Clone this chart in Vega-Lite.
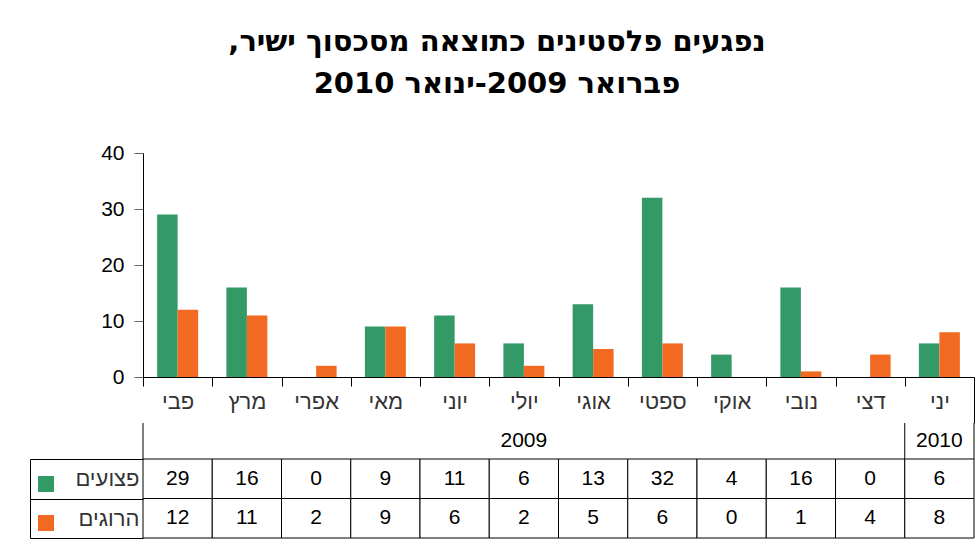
{
  "$schema": "https://vega.github.io/schema/vega-lite/v6.json",
  "background": "white",
  "padding": {"left": 29, "top": 28, "right": 4, "bottom": 4},
  "title": {
    "text": ["נפגעים פלסטינים כתוצאה מסכסוך ישיר,\u200f", "פברואר 2009-ינואר 2010"],
    "font": "DejaVu Sans",
    "fontSize": 29,
    "fontWeight": "bold",
    "lineHeight": 42,
    "color": "black",
    "anchor": "middle",
    "frame": "bounds",
    "dx": -5,
    "offset": 43
  },
  "config": {
    "view": {"stroke": null},
    "font": "Liberation Sans"
  },
  "datasets": {
    "casualties": [
      {"month": "פבי", "series": "פצועים", "value": 29},
      {"month": "פבי", "series": "הרוגים", "value": 12},
      {"month": "מרץ", "series": "פצועים", "value": 16},
      {"month": "מרץ", "series": "הרוגים", "value": 11},
      {"month": "אפרי", "series": "פצועים", "value": 0},
      {"month": "אפרי", "series": "הרוגים", "value": 2},
      {"month": "מאי", "series": "פצועים", "value": 9},
      {"month": "מאי", "series": "הרוגים", "value": 9},
      {"month": "יוני", "series": "פצועים", "value": 11},
      {"month": "יוני", "series": "הרוגים", "value": 6},
      {"month": "יולי", "series": "פצועים", "value": 6},
      {"month": "יולי", "series": "הרוגים", "value": 2},
      {"month": "אוגי", "series": "פצועים", "value": 13},
      {"month": "אוגי", "series": "הרוגים", "value": 5},
      {"month": "ספטי", "series": "פצועים", "value": 32},
      {"month": "ספטי", "series": "הרוגים", "value": 6},
      {"month": "אוקי", "series": "פצועים", "value": 4},
      {"month": "אוקי", "series": "הרוגים", "value": 0},
      {"month": "נובי", "series": "פצועים", "value": 16},
      {"month": "נובי", "series": "הרוגים", "value": 1},
      {"month": "דצי", "series": "פצועים", "value": 0},
      {"month": "דצי", "series": "הרוגים", "value": 4},
      {"month": "יני", "series": "פצועים", "value": 6},
      {"month": "יני", "series": "הרוגים", "value": 8}
    ],
    "years": [
      {"month": "יולי", "year": "2009"},
      {"month": "יני", "year": "2010"}
    ],
    "yearStarts": [
      {"month": "פבי"},
      {"month": "יני"}
    ],
    "yearEnd": [
      {"month": "יני"}
    ]
  },
  "bounds": "flush",
  "spacing": 46,
  "vconcat": [
    {
      "width": 831,
      "height": 224,
      "data": {"name": "casualties"},
      "mark": {"type": "bar"},
      "encoding": {
        "x": {
          "field": "month",
          "type": "nominal",
          "scale": {"domain": ["פבי", "מרץ", "אפרי", "מאי", "יוני", "יולי", "אוגי", "ספטי", "אוקי", "נובי", "דצי", "יני"], "paddingInner": 0, "paddingOuter": 0},
          "axis": {
            "title": null,
            "labelAngle": 0,
            "labelFont": "Liberation Sans",
            "labelFontSize": 22,
            "labelColor": "#333333",
            "labelBaseline": "top",
            "labelPadding": {"condition": {"test": "datum.value === 'יני'", "value": -32}, "value": 5},
            "tickBand": "extent",
            "tickSize": {"condition": {"test": "datum.value === 'יני'", "value": 46}, "value": 9},
            "tickColor": "black",
            "domainColor": "black"
          }
        },
        "xOffset": {
          "field": "series",
          "type": "nominal",
          "scale": {"domain": ["פצועים", "הרוגים"], "paddingInner": 0, "paddingOuter": 0.69}
        },
        "y": {
          "field": "value",
          "type": "quantitative",
          "scale": {"domain": [0, 40]},
          "axis": {
            "title": null,
            "values": [0, 10, 20, 30, 40],
            "grid": false,
            "tickSize": 9,
            "tickColor": "#666666",
            "domainColor": "black",
            "labelFontSize": 21,
            "labelColor": "black",
            "labelPadding": 10
          }
        },
        "color": {
          "field": "series",
          "type": "nominal",
          "scale": {"domain": ["פצועים", "הרוגים"], "range": ["#339966", "#F26922"]},
          "legend": {
            "orient": "none",
            "legendX": -105,
            "legendY": 323,
            "title": null,
            "padding": 0,
            "symbolType": "square",
            "symbolSize": 256,
            "symbolStrokeWidth": 0,
            "labelExpr": "''",
            "labelFontSize": 16,
            "labelOffset": 0,
            "rowPadding": 23
          }
        }
      }
    },
    {
      "bounds": "flush",
      "spacing": 0,
      "vconcat": [
        {
          "width": 831,
          "height": 36,
          "layer": [
            {
              "data": {"name": "yearStarts"},
              "mark": {"type": "rule", "color": "black", "strokeWidth": 1},
              "encoding": {
                "x": {
                  "field": "month",
                  "type": "nominal",
                  "bandPosition": 0,
                  "scale": {"domain": ["פבי", "מרץ", "אפרי", "מאי", "יוני", "יולי", "אוגי", "ספטי", "אוקי", "נובי", "דצי", "יני"], "paddingInner": 0, "paddingOuter": 0},
                  "axis": null
                }
              }
            },
            {
              "data": {"name": "yearEnd"},
              "mark": {"type": "rule", "color": "black", "strokeWidth": 1},
              "encoding": {
                "x": {
                  "field": "month",
                  "type": "nominal",
                  "bandPosition": 1,
                  "axis": null
                }
              }
            },
            {
              "data": {"name": "years"},
              "mark": {"type": "text", "fontSize": 21, "color": "black", "font": "Liberation Sans", "baseline": "middle"},
              "encoding": {
                "x": {"field": "month", "type": "nominal", "axis": null},
                "text": {"field": "year", "type": "nominal"}
              }
            }
          ]
        },
        {
          "width": 831,
          "height": 79,
          "data": {"name": "casualties"},
          "encoding": {
            "x": {
              "field": "month",
              "type": "nominal",
              "scale": {"domain": ["פבי", "מרץ", "אפרי", "מאי", "יוני", "יולי", "אוגי", "ספטי", "אוקי", "נובי", "דצי", "יני"], "paddingInner": 0, "paddingOuter": 0},
              "axis": null
            },
            "y": {
              "field": "series",
              "type": "nominal",
              "scale": {"domain": ["פצועים", "הרוגים"], "paddingInner": 0, "paddingOuter": 0},
              "axis": {
                "title": null,
                "orient": "left",
                "offset": 113,
                "tickSize": -113,
                "tickBand": "extent",
                "tickColor": "black",
                "domainColor": "black",
                "labelFontSize": 22,
                "labelColor": "#333333",
                "labelPadding": 4,
                "labelFont": "Liberation Sans"
              }
            }
          },
          "layer": [
            {
              "mark": {"type": "rect", "fill": "white", "stroke": "black", "strokeWidth": 1}
            },
            {
              "mark": {"type": "text", "fontSize": 21, "color": "black", "font": "Liberation Sans", "baseline": "middle"},
              "encoding": {
                "text": {"field": "value", "type": "quantitative"}
              }
            }
          ]
        }
      ]
    }
  ]
}
